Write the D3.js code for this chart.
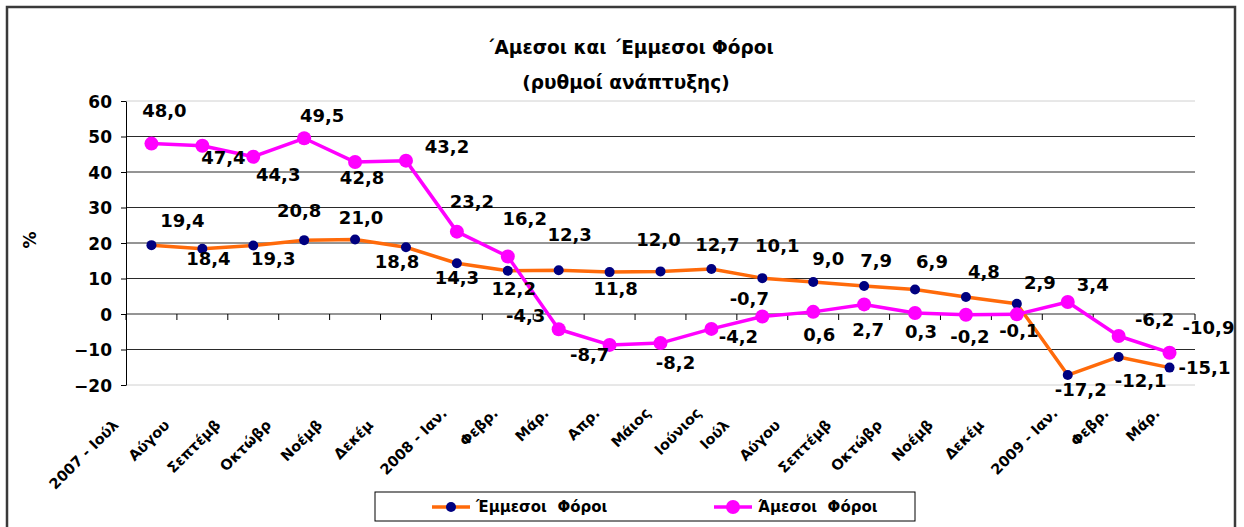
<!DOCTYPE html>
<html>
<head>
<meta charset="utf-8">
<script src="https://cdn.jsdelivr.net/npm/d3@7"></script>
<style>
  body { margin: 0; background: #fff; }
  text { font-family: "DejaVu Sans", sans-serif; font-weight: bold; fill: #000; }
</style>
</head>
<body>
<svg width="1244" height="527"></svg>
<script>
// months as written in the sheet
const months = ["2007 - Ιούλιος", "Αύγουστος", "Σεπτέμβριος", "Οκτώβριος", "Νοέμβριος", "Δεκέμβριος",
  "2008 - Ιαν.", "Φεβρ.", "Μάρ.", "Απρ.", "Μάιος", "Ιούνιος", "Ιούλιος", "Αύγουστος",
  "Σεπτέμβριος", "Οκτώβριος", "Νοέμβριος", "Δεκέμβριος", "2009 - Ιαν.", "Φεβρ.", "Μάρ."];
// what is visible on the axis (Excel cuts the long ones)
const categories = ["2007 - Ιούλ", "Αύγου", "Σεπτέμβ", "Οκτώβρ", "Νοέμβ", "Δεκέμ",
  "2008 - Ιαν.", "Φεβρ.", "Μάρ.", "Απρ.", "Μάιος", "Ιούνιος", "Ιούλ", "Αύγου",
  "Σεπτέμβ", "Οκτώβρ", "Νοέμβ", "Δεκέμ", "2009 - Ιαν.", "Φεβρ.", "Μάρ."];

// Έμμεσοι Φόροι (indirect)
const indirect = [19.4, 18.4, 19.3, 20.8, 21.0, 18.8, 14.3, 12.2, 12.3, 11.8, 12.0,
  12.7, 10.1, 9.0, 7.9, 6.9, 4.8, 2.9, -17.2, -12.1, -15.1];

// Άμεσοι Φόροι (direct)
const direct = [48.0, 47.4, 44.3, 49.5, 42.8, 43.2, 23.2, 16.2, -4.3, -8.7, -8.2,
  -4.2, -0.7, 0.6, 2.7, 0.3, -0.2, -0.1, 3.4, -6.2, -10.9];

const yTicks = [-20, -10, 0, 10, 20, 30, 40, 50, 60];

// where each data label sits, relative to its point
const indirectLabelShift = [[31,-25],[6,10],[20,13],[-5,-30],[6,-22],[-9,14],[0,14],[6,18],
  [11,-36],[6,16],[-2,-32],[6,-24],[15,-33],[15,-24],[12,-25],[17,-28],[18,-25],[23,-21],
  [13,14],[22,24],[35,0]];
const directLabelShift = [[13,-33],[21,12],[25,18],[18,-23],[7,15],[41,-14],[15,-30],[17,-38],
  [-33,-14],[-20,10],[15,19],[27,8],[-13,-18],[6,23],[4,25],[6,19],[4,22],[2,16],
  [25,-17],[36,-16],[39,-25]];

const fmt = v => v.toFixed(1).replace(".", ",");

var svg = d3.select("svg");

// outer frame
svg.append("rect")
   .attr("x", 7).attr("y", 7)
   .attr("width", 1228).attr("height", 540)
   .attr("fill", "none")
   .attr("stroke", "#3a3a3a")
   .attr("stroke-width", 2.5);

svg.append("text")
   .attr("x", 630).attr("y", 54)
   .attr("text-anchor", "middle")
   .style("font-size", "18.5px")
   .text("΄Αμεσοι και ΄Εμμεσοι Φόροι");
svg.append("text")
   .attr("x", 626).attr("y", 89)
   .attr("text-anchor", "middle")
   .style("font-size", "18.5px")
   .text("(ρυθμοί ανάπτυξης)");

var x = d3.scaleBand()
          .domain(d3.range(categories.length))
          .range([126, 1195]);

var y = d3.scaleLinear()
          .domain([-20, 60])
          .range([385, 101]);

// gridlines
svg.append("g")
   .selectAll("line")
   .data(yTicks)
   .enter().append("line")
   .attr("x1", 126).attr("x2", 1195)
   .attr("y1", d => y(d)).attr("y2", d => y(d))
   .attr("stroke", d => (d === 60 || d === -20) ? "#d0d0d0" : "#2a2a2a")
   .attr("stroke-width", 1);

// y axis
var yaxis = svg.append("g")
   .attr("transform", "translate(126,0)")
   .call(d3.axisLeft(y).tickValues(yTicks).tickSize(5).tickSizeOuter(0).tickPadding(9));
yaxis.select(".domain").attr("stroke", "#000");
yaxis.selectAll("text").style("font-size", "17px").attr("dy", "0.36em");

svg.append("text")
   .attr("transform", "translate(36,240) rotate(-90)")
   .attr("text-anchor", "middle")
   .style("font-size", "17px")
   .text("%");

// category ticks along the zero line
var bounds = d3.range(categories.length + 1).map(i => 126 + i * x.step());
svg.append("g")
   .selectAll("line")
   .data(bounds)
   .enter().append("line")
   .attr("x1", d => d).attr("x2", d => d)
   .attr("y1", y(0)).attr("y2", y(0) + 6)
   .attr("stroke", "#000");

var cx = i => x(i) + x.bandwidth() / 2;

// category labels, the cut ones sit a bit lower/left
svg.append("g")
   .selectAll("text")
   .data(categories)
   .enter().append("text")
   .attr("transform", function(d, i) {
     var cut = d !== months[i];
     var tx = cx(i) - (cut ? 32 : 9);
     var ty = cut ? 426 : 414;
     return `translate(${tx},${ty}) rotate(-45)`;
   })
   .attr("text-anchor", "end")
   .style("font-size", "14.5px")
   .text(d => d);

var line = d3.line()
             .x((d, i) => cx(i))
             .y(d => y(d));

// indirect series
svg.append("path")
   .datum(indirect)
   .attr("d", line)
   .attr("fill", "none")
   .attr("stroke", "#ff6a0a")
   .attr("stroke-width", 3.5)
   .attr("stroke-linejoin", "round");
svg.append("g")
   .selectAll("circle")
   .data(indirect)
   .enter().append("circle")
   .attr("cx", (d, i) => cx(i))
   .attr("cy", d => y(d))
   .attr("r", 5)
   .attr("fill", "#000080");

// direct series
svg.append("path")
   .datum(direct)
   .attr("d", line)
   .attr("fill", "none")
   .attr("stroke", "#ff00ff")
   .attr("stroke-width", 3.5)
   .attr("stroke-linejoin", "round");
svg.append("g")
   .selectAll("circle")
   .data(direct)
   .enter().append("circle")
   .attr("cx", (d, i) => cx(i))
   .attr("cy", d => y(d))
   .attr("r", 7)
   .attr("fill", "#ff00ff");

// data labels
function labels(values, shift) {
  svg.append("g")
     .selectAll("text")
     .data(values)
     .enter().append("text")
     .attr("x", (d, i) => cx(i) + shift[i][0])
     .attr("y", (d, i) => y(d) + shift[i][1])
     .attr("dy", "0.36em")
     .attr("text-anchor", "middle")
     .style("font-size", "18px")
     .text(d => fmt(d));
}
labels(indirect, indirectLabelShift);
labels(direct, directLabelShift);

// legend
var legend = svg.append("g");
legend.append("rect")
      .attr("x", 375).attr("y", 492)
      .attr("width", 540).attr("height", 29)
      .attr("fill", "#fff")
      .attr("stroke", "#000");

var items = [
  {name: "Έμμεσοι  Φόροι", line: "#ff6a0a", dot: "#000080", r: 5, x: 432},
  {name: "Άμεσοι  Φόροι", line: "#ff00ff", dot: "#ff00ff", r: 7, x: 714}
];
items.forEach(function(it) {
  legend.append("line")
        .attr("x1", it.x).attr("x2", it.x + 38)
        .attr("y1", 507).attr("y2", 507)
        .attr("stroke", it.line).attr("stroke-width", 3.5);
  legend.append("circle")
        .attr("cx", it.x + 19).attr("cy", 507)
        .attr("r", it.r).attr("fill", it.dot);
  legend.append("text")
        .attr("x", it.x + 44).attr("y", 507)
        .attr("dy", "0.36em")
        .style("font-size", "15px")
        .style("white-space", "pre")
        .text(it.name);
});
</script>
</body>
</html>
